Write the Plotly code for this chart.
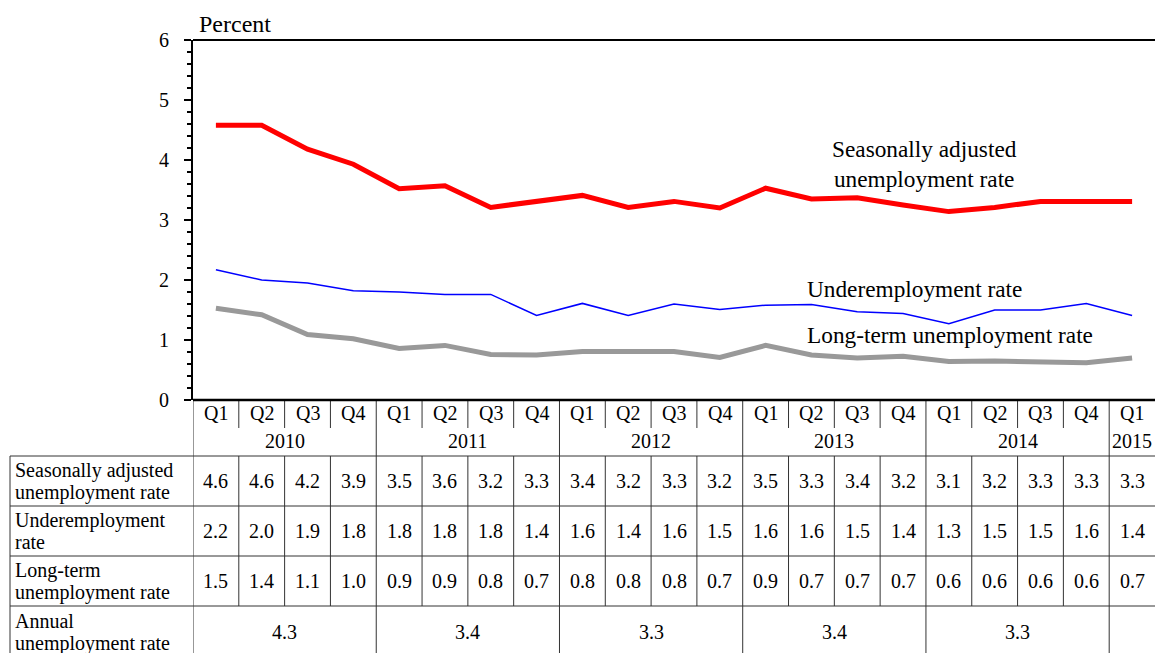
import plotly.graph_objects as go

# quarters, 2010 Q1 .. 2015 Q1
quarters = ["Q1", "Q2", "Q3", "Q4"] * 5 + ["Q1"]
years = ["2010", "2011", "2012", "2013", "2014", "2015"]

# values as plotted
seasonal = [4.58, 4.58, 4.18, 3.93, 3.52, 3.57, 3.21, 3.30, 3.41, 3.21, 3.31,
            3.20, 3.53, 3.35, 3.37, 3.25, 3.14, 3.21, 3.31, 3.31, 3.31]
underemp = [2.17, 2.00, 1.95, 1.82, 1.80, 1.76, 1.76, 1.41, 1.61, 1.41, 1.60,
            1.51, 1.58, 1.59, 1.47, 1.44, 1.27, 1.50, 1.50, 1.61, 1.41]
longterm = [1.53, 1.42, 1.09, 1.02, 0.86, 0.91, 0.76, 0.75, 0.81, 0.81, 0.81,
            0.71, 0.91, 0.75, 0.70, 0.73, 0.64, 0.65, 0.64, 0.62, 0.70]

# values as printed in the table
seasonal_tbl = ["4.6", "4.6", "4.2", "3.9", "3.5", "3.6", "3.2", "3.3", "3.4", "3.2", "3.3",
                "3.2", "3.5", "3.3", "3.4", "3.2", "3.1", "3.2", "3.3", "3.3", "3.3"]
underemp_tbl = ["2.2", "2.0", "1.9", "1.8", "1.8", "1.8", "1.8", "1.4", "1.6", "1.4", "1.6",
                "1.5", "1.6", "1.6", "1.5", "1.4", "1.3", "1.5", "1.5", "1.6", "1.4"]
longterm_tbl = ["1.5", "1.4", "1.1", "1.0", "0.9", "0.9", "0.8", "0.7", "0.8", "0.8", "0.8",
                "0.7", "0.9", "0.7", "0.7", "0.7", "0.6", "0.6", "0.6", "0.6", "0.7"]
annual = ["4.3", "3.4", "3.3", "3.4", "3.3"]

row_labels = [["Seasonally adjusted", "unemployment rate"],
              ["Underemployment", "rate"],
              ["Long-term", "unemployment rate"],
              ["Annual", "unemployment rate"]]

W, H = 1155, 653
L, R, T, B = 193, 0, 40, 253
FONT = "Liberation Serif"
LINE = "#333333"

x = list(range(len(quarters)))


def py(p):  # pixel row -> paper y
    return (H - B - p) / (H - T - B)


def pxp(p):  # pixel col -> paper x
    return (p - L) / (W - L - R)


fig = go.Figure()
fig.add_trace(go.Scatter(x=x, y=seasonal, mode="lines",
                         line=dict(color="#ff0000", width=5)))
fig.add_trace(go.Scatter(x=x, y=underemp, mode="lines",
                         line=dict(color="#0000ff", width=1.5)))
fig.add_trace(go.Scatter(x=x, y=longterm, mode="lines",
                         line=dict(color="#999999", width=5)))

shapes = []
ann = []


def hline(y0px, x0, x1, xref="paper", w=1, color=LINE):
    shapes.append(dict(type="line", xref=xref, yref="paper", x0=x0, x1=x1,
                       y0=py(y0px), y1=py(y0px), line=dict(color=color, width=w)))


def vline(xv, y0px, y1px, xref="x", w=1, color=LINE):
    shapes.append(dict(type="line", xref=xref, yref="paper", x0=xv, x1=xv,
                       y0=py(y0px), y1=py(y1px), line=dict(color=color, width=w)))


rows_top = [456, 506, 556, 606, 656]
n = len(quarters)
# horizontal table lines
for r in rows_top:
    hline(r, pxp(10), 1.0)
# left label column
vline(pxp(10), 456, 656, xref="paper")
# year boundaries (full height)
for b in [-0.5, 3.5, 7.5, 11.5, 15.5, 19.5]:
    vline(b, 400, 656)
# quarter separators
for i in range(n - 1):
    b = i + 0.5
    if b in (3.5, 7.5, 11.5, 15.5, 19.5):
        continue
    vline(b, 400, 428)
    vline(b, 456, 606)

# frame of chart: top line and x axis line
hline(40, 0, 1, w=2, color="black")
hline(400, 0, 1, w=2.5, color="black")

tf = dict(family=FONT, size=20, color="black")
for i, q in enumerate(quarters):
    ann.append(dict(x=i, y=py(413), xref="x", yref="paper", text=q,
                    showarrow=False, yanchor="middle", font=tf))
year_pos = [1.5, 5.5, 9.5, 13.5, 17.5, 20]
for yr, xp in zip(years, year_pos):
    ann.append(dict(x=xp, y=py(441), xref="x", yref="paper", text=yr,
                    showarrow=False, yanchor="middle", font=tf))

row_centers = [481, 531, 581, 632]
for vals, rc in zip([seasonal_tbl, underemp_tbl, longterm_tbl], row_centers):
    for i, v in enumerate(vals):
        ann.append(dict(x=i, y=py(rc), xref="x", yref="paper", text=v,
                        showarrow=False, yanchor="middle", font=tf))
for v, xp in zip(annual, year_pos):
    ann.append(dict(x=xp, y=py(row_centers[3]), xref="x", yref="paper", text=v,
                    showarrow=False, yanchor="middle", font=tf))

for lines, rc in zip(row_labels, row_centers):
    for k, t in enumerate(lines):
        ann.append(dict(x=pxp(13), y=py(rc - 11 + 22 * k), xref="paper", yref="paper",
                        text=t, showarrow=False, xanchor="left", yanchor="middle",
                        font=dict(family=FONT, size=20, color="black")))

lf = dict(family=FONT, size=23.3, color="black")
ann.append(dict(x=pxp(197), y=py(24), xref="paper", yref="paper", text="Percent",
                showarrow=False, xanchor="left", yanchor="middle",
                font=dict(family=FONT, size=24, color="black")))
ann.append(dict(x=pxp(924), y=py(164), xref="paper", yref="paper",
                text="Seasonally adjusted<br>unemployment rate",
                showarrow=False, xanchor="center", yanchor="middle", font=lf))
ann.append(dict(x=pxp(805), y=py(289), xref="paper", yref="paper",
                text="Underemployment rate", showarrow=False,
                xanchor="left", yanchor="middle", font=lf))
ann.append(dict(x=pxp(805), y=py(335), xref="paper", yref="paper",
                text="Long-term unemployment rate", showarrow=False,
                xanchor="left", yanchor="middle", font=lf))

fig.update_layout(
    width=W, height=H,
    margin=dict(l=L, r=R, t=T, b=B),
    paper_bgcolor="white", plot_bgcolor="white",
    showlegend=False,
    shapes=shapes, annotations=ann,
    xaxis=dict(range=[-0.5, n - 0.5], showgrid=False, zeroline=False,
               showticklabels=False, ticks="", showline=False),
    yaxis=dict(range=[0, 6], dtick=1, showgrid=False, zeroline=False,
               showline=True, linecolor="black", linewidth=2,
               ticks="outside", ticklen=7, tickwidth=2, tickcolor="black",
               ticklabelstandoff=11,
               minor=dict(dtick=0.2, ticks="outside", ticklen=4, tickwidth=1.5,
                          tickcolor="black"),
               tickfont=dict(family=FONT, size=20, color="black")),
)

fig.write_html("out.html", config={"displayModeBar": False},
               post_script="document.body.style.margin='0px';")
